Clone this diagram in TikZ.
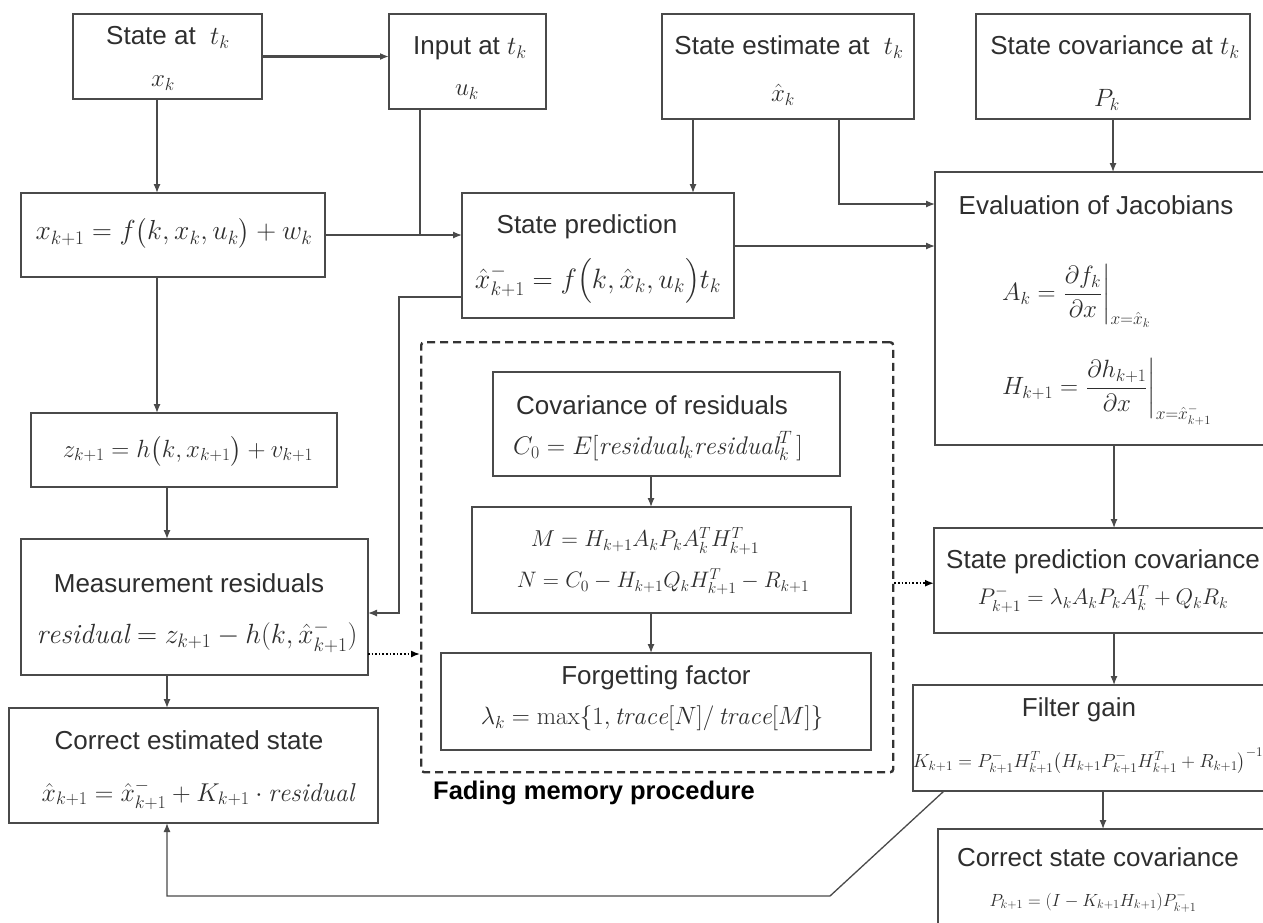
\RequirePackage{fix-cm}
\documentclass[tikz,border=0pt]{standalone}
\usepackage{amsmath}
\usepackage{fontspec}
\setsansfont{Liberation Sans}
\usetikzlibrary{arrows.meta}
\definecolor{linec}{HTML}{4A4A4A}
\definecolor{txt}{HTML}{2E2E2E}
\newcommand\boxat[5]{\node[box, minimum width=#4pt, minimum height=#5pt] (#1) at (#2,#3) {};}
\newcommand\mi[1]{\mathit{#1}}
\newcommand\fsz[1]{\fontsize{#1}{#1}\selectfont}
\begin{document}
\begin{tikzpicture}[x=1pt,y=-1pt,
  box/.style={draw=linec, line width=1.5pt, inner sep=0pt, outer sep=0pt, anchor=north west},
  lab/.style={font=\sffamily\fsz{26}, text=txt, inner sep=0pt},
  eqn/.style={font=\fsz{25}, text=txt, inner sep=0pt},
  arr/.style={draw=linec, line width=1.3pt, -{Latex[length=9pt,width=7pt]}},
  ln/.style={draw=linec, line width=1.3pt},
  dotarr/.style={draw=black, line width=1.6pt, dotted, -{Latex[length=9pt,width=7pt]}},
  fadebox/.style={draw=black!80, line width=2.4pt, dash pattern=on 8pt off 5pt, rounded corners=3pt, inner sep=0pt, anchor=north west}]
\useasboundingbox (0,0) rectangle (1263,922);
\clip (0,0) rectangle (1263,922);

% ---------- boxes ----------
\boxat{st}{73}{14}{189}{85}
\boxat{inp}{389}{14}{157}{95}
\boxat{est}{662}{14}{252}{105}
\boxat{cov}{976}{14}{274}{105}
\boxat{xk}{21}{193}{304}{84}
\boxat{pred}{462}{193}{272}{125}
\boxat{jac}{935}{172}{356}{273}
\boxat{zk}{31}{413}{306}{74}
\boxat{mres}{21}{539}{347}{136}
\boxat{cest}{9}{708}{369}{115}
\boxat{cres}{493}{372}{347}{104}
\boxat{mn}{472}{507}{379}{106}
\boxat{forg}{441}{653}{430}{97}
\node[fadebox, minimum width=472pt, minimum height=430pt] (fade) at (420,341) {};
\boxat{spc}{934}{528}{356}{105}
\boxat{gain}{913}{685}{378}{106}
\boxat{ccov}{938}{829}{352}{110}

% ---------- texts ----------
\node[lab] (stL) at (168,37) {State at \ $t_k$};
\node[eqn] (stE) at (163,83) {$x_k$};
\node[lab] (inpL) at (470,48) {Input at $t_k$};
\node[eqn] (inpE) at (467,92) {$u_k$};
\node[lab] (estL) at (789,47) {State estimate at \ $t_k$};
\node[eqn] (estE) at (783,95) {$\hat{x}_k$};
\node[lab] (covL) at (1115,47) {State covariance at $t_k$};
\node[eqn] (covE) at (1107,100) {$P_k$};
\node[eqn, font=\fsz{27.5}] (xkE) at (174,233) {$x_{k+1} = f\bigl(k, x_k, u_k\bigr) + w_k$};
\node[lab] (predL) at (587,227) {State prediction};
\node[eqn, font=\fsz{28}] (predE) at (598,281) {$\hat{x}^{-}_{k+1} = f\bigl(k, \hat{x}_k, u_k\bigr) t_k$};
\node[lab] (jacL) at (1096,205) {Evaluation of Jacobians};
\node[eqn, anchor=west] (jacA) at (1002,296) {$A_k = \left.\dfrac{\partial f_k}{\partial x}\right|_{x=\hat{x}_k}$};
\node[eqn, anchor=west] (jacH) at (1002,392) {$H_{k+1} = \left.\dfrac{\partial h_{k+1}}{\partial x}\right|_{x=\hat{x}^{-}_{k+1}}$};
\node[eqn, font=\fsz{24.9}] (zkE) at (188,451) {$z_{k+1} = h\bigl(k, x_{k+1}\bigr) + v_{k+1}$};
\node[lab] (mresL) at (189,583) {Measurement residuals};
\node[eqn, font=\fsz{27.8}] (mresE) at (197,637) {$\mi{residual} = z_{k+1} - h(k, \hat{x}^{-}_{k+1})$};
\node[lab] (cestL) at (189,740) {Correct estimated state};
\node[eqn, font=\fsz{25.8}] (cestE) at (198,795) {$\hat{x}_{k+1} = \hat{x}^{-}_{k+1} + K_{k+1} \cdot \mi{residual}$};
\node[lab] (cresL) at (652,405) {Covariance of residuals};
\node[eqn, font=\fsz{25.5}] (cresE) at (658,446) {$C_0 = E[\mi{residual}_k \mi{residual}_k^{T}\,]$};
\node[eqn, font=\fsz{23}] (mnM) at (645,541) {$M = H_{k+1} A_k P_k A_k^{T} H_{k+1}^{T}$};
\node[eqn, font=\fsz{22.4}] (mnN) at (663,582) {$N = C_0 - H_{k+1} Q_k H_{k+1}^{T} - R_{k+1}$};
\node[lab] (forgL) at (656,678) {Forgetting factor};
\node[eqn, font=\fsz{25}] (forgE) at (652,718) {$\lambda_k = \max\{1, \mi{trace}[N]/\,\mi{trace}[M]\}$};
\node[lab, font=\sffamily\bfseries\fsz{25.5}, text=black, anchor=west] (fadeL) at (433,793) {Fading memory procedure};
\node[lab] (spcL) at (1103,562) {State prediction covariance};
\node[eqn, font=\fsz{22.6}] (spcE) at (1103,599) {$P^{-}_{k+1} = \lambda_k A_k P_k A_k^{T} + Q_k R_k$};
\node[lab] (gainL) at (1079,710) {Filter gain};
\node[eqn, font=\fsz{19}] (gainE) at (1088,761) {$K_{k+1} = P^{-}_{k+1} H^{T}_{k+1} \bigl(H_{k+1} P^{-}_{k+1} H^{T}_{k+1} + R_{k+1}\bigr)^{-1}$};
\node[lab] (ccovL) at (1098,857) {Correct state covariance};
\node[eqn, font=\fsz{17.6}] (ccovE) at (1093,902) {$P_{k+1} = (I - K_{k+1} H_{k+1}) P^{-}_{k+1}$};

% ---------- connectors ----------
\coordinate (bendA) at (399,297);
\coordinate (fbA) at (830,896);

\draw[arr, line width=2.2pt] (st.east) -- (st.east -| inp.west);
\draw[arr] ([xshift=-10.5pt]st.south) -- ([xshift=-10.5pt]st.south |- xk.north);
\draw[ln] ([xshift=-47.5pt]inp.south) -- ([xshift=-47.5pt]inp.south |- xk.east);
\draw[arr] (xk.east) -- (xk.east -| pred.west);
\draw[arr] ([xshift=-95pt]est.south) -- ([xshift=-95pt]est.south |- pred.north);
\draw[arr] ([xshift=51pt]est.south) |- ([yshift=104.5pt]jac.west);
\draw[arr] (cov.south) -- (cov.south |- jac.north);
\draw[arr] ([yshift=9.5pt]pred.east) -- ([yshift=9.5pt]pred.east -| jac.west);
\draw[arr] ([yshift=-41.5pt]pred.west) -- (bendA) |- ([yshift=-6pt]mres.east);
\draw[arr] ([xshift=-16pt]xk.south) -- ([xshift=-16pt]xk.south |- zk.north);
\draw[arr] ([xshift=-17pt]zk.south) -- ([xshift=-17pt]zk.south |- mres.north);
\draw[arr] ([xshift=-27.5pt]mres.south) -- ([xshift=-27.5pt]mres.south |- cest.north);
\draw[dotarr] ([yshift=-47pt]mres.east) -- ([yshift=-47pt]mres.east -| fade.west);
\draw[dotarr] ([yshift=-26pt]fade.east) -- ([yshift=-26pt]fade.east -| spc.west);
\draw[arr] ([xshift=-15.5pt]cres.south) -- ([xshift=-15.5pt]cres.south |- mn.north);
\draw[arr] ([xshift=-15.5pt]cres.south |- mn.south) -- ([xshift=-15.5pt]cres.south |- forg.north);
\draw[arr] ([xshift=1pt]jac.south) -- ([xshift=1pt]jac.south |- spc.north);
\draw[arr] ([xshift=1pt]jac.south |- spc.south) -- ([xshift=1pt]jac.south |- gain.north);
\draw[arr] ([xshift=-10pt]jac.south |- gain.south) -- ([xshift=-10pt]jac.south |- ccov.north);
\draw[arr] ([xshift=31pt]gain.south west) -- (fbA) -| ([xshift=-26.5pt]cest.south);
\end{tikzpicture}
\end{document}
